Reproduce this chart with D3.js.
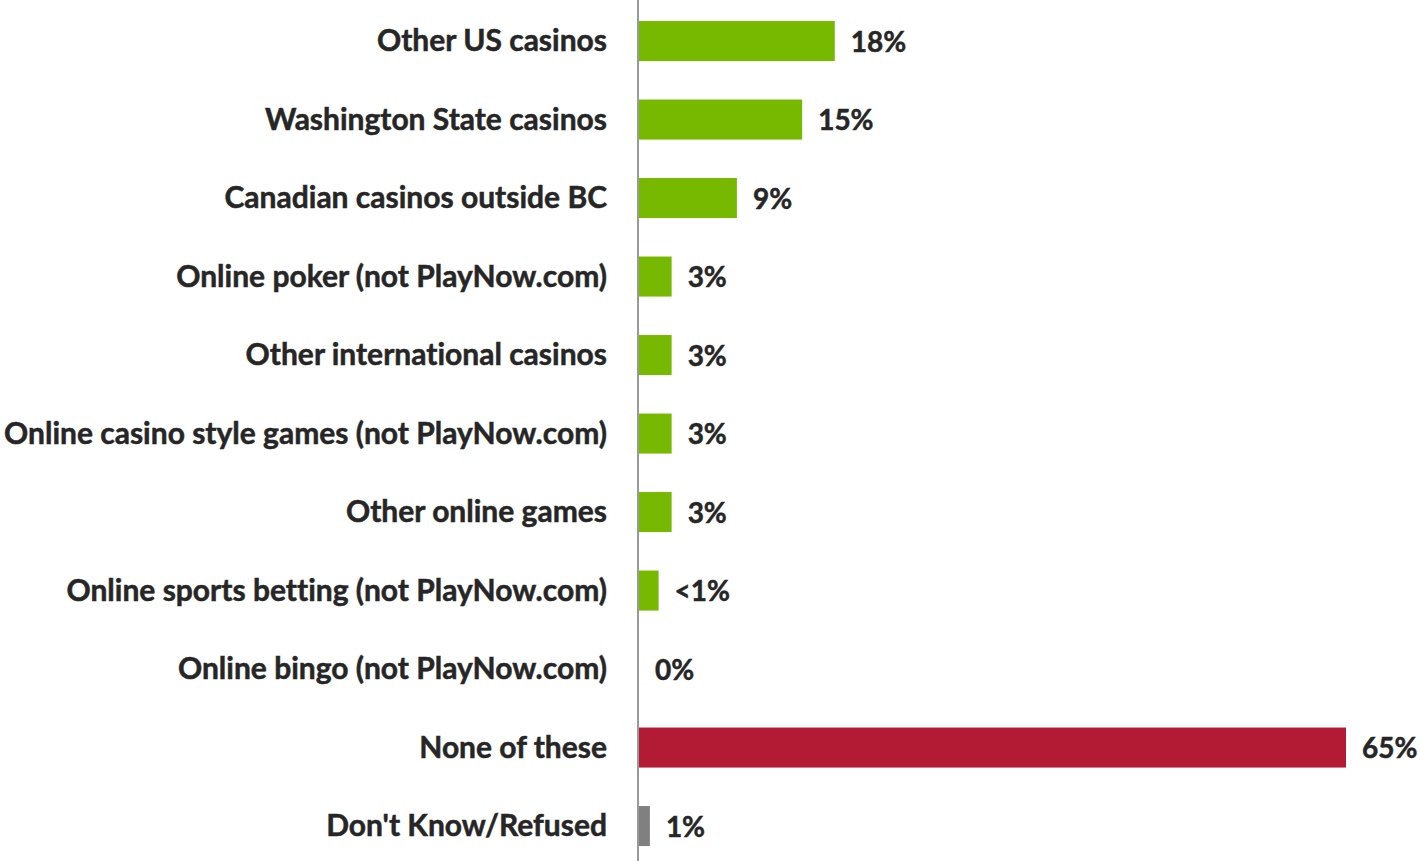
<!DOCTYPE html>
<html>
<head>
<meta charset="utf-8">
<script src="https://cdn.jsdelivr.net/npm/d3@7/dist/d3.min.js"></script>
<style>
  html, body { margin: 0; padding: 0; background: #ffffff; }
  svg { display: block; }
  text { font-variant-ligatures: none; font-feature-settings: "liga" 0, "clig" 0; }
</style>
</head>
<body>
<svg id="chart" width="1420" height="861"></svg>
<script>
// Gambling venues used, share of respondents (%)
const categories = [
  "Other US casinos",
  "Washington State casinos",
  "Canadian casinos outside BC",
  "Online poker (not PlayNow.com)",
  "Other international casinos",
  "Online casino style games (not PlayNow.com)",
  "Other online games",
  "Online sports betting (not PlayNow.com)",
  "Online bingo (not PlayNow.com)",
  "None of these",
  "Don't Know/Refused"
];
const values = [18, 15, 9, 3, 3, 3, 3, 1.8, 0, 65, 1];
const valueLabels = ["18%", "15%", "9%", "3%", "3%", "3%", "3%", "<1%", "0%", "65%", "1%"];
const groups = ["venue", "venue", "venue", "venue", "venue", "venue", "venue", "venue", "venue", "none", "dk"];

const colors = { venue: "#76B900", none: "#B31B34", dk: "#808080" };

const svg = d3.select("#chart");
const width = 1420, height = 861;
const axisX = 638;
const font = "Lato, 'Open Sans', sans-serif";
const textColor = "#262626";

const x = d3.scaleLinear().domain([0, 65]).range([axisX + 1, 1346]);
const y = d3.scaleBand()
  .domain(categories)
  .range([1.8, 865.3])
  .paddingInner(0.49)
  .paddingOuter(0.245);

const rows = categories.map((c, i) => ({ cat: c, v: values[i], lab: valueLabels[i], g: groups[i] }));

// Bars
svg.append("g")
  .selectAll("rect")
  .data(rows)
  .join("rect")
  .attr("x", x(0))
  .attr("y", d => y(d.cat))
  .attr("width", d => x(d.v) - x(0))
  .attr("height", y.bandwidth())
  .attr("fill", d => colors[d.g]);

// Category axis
const yAxis = svg.append("g")
  .attr("transform", `translate(${axisX},0)`)
  .call(d3.axisLeft(y).tickSize(0).tickPadding(31));
yAxis.select(".domain")
  .attr("stroke", "#808080")
  .attr("stroke-width", 1.6)
  .attr("d", `M0,0V${height}`);
yAxis.selectAll("text")
  .attr("font-family", font)
  .attr("font-weight", 700)
  .attr("font-size", 30)
  .attr("fill", textColor)
  .attr("stroke", textColor)
  .attr("stroke-width", 0.5)
  .attr("dy", "0.34em");

// Value labels
svg.append("g")
  .selectAll("text")
  .data(rows)
  .join("text")
  .attr("x", d => x(d.v) + 16)
  .attr("y", d => y(d.cat) + y.bandwidth() / 2)
  .attr("dy", "0.38em")
  .attr("font-family", font)
  .attr("font-weight", 700)
  .attr("font-size", 28)
  .attr("fill", textColor)
  .attr("stroke", textColor)
  .attr("stroke-width", 0.5)
  .text(d => d.lab);
</script>
</body>
</html>
